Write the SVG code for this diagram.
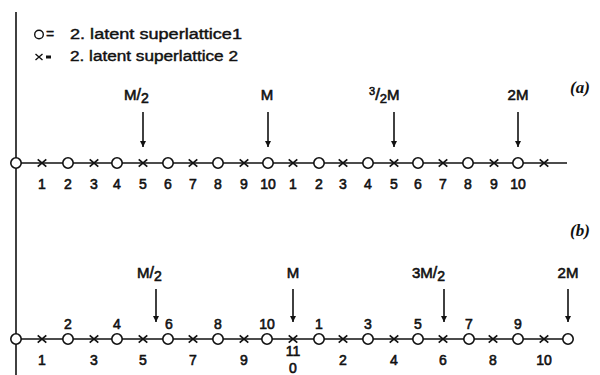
<svg xmlns="http://www.w3.org/2000/svg" width="600" height="375" viewBox="0 0 600 375">
<defs>
<style>
text{font-family:"Liberation Sans",Arial,sans-serif;font-size:14px;fill:#111;stroke:#111;stroke-width:0.6}
.n{text-anchor:middle}
.lg{font-size:14px;stroke-width:0.4}
.lb{font-size:15px}
.tag{font-family:"Liberation Serif","Times New Roman",serif;font-style:italic;font-weight:bold;font-size:17px;stroke:none}
.ln{stroke:#111;stroke-width:1.6;fill:none}
.ar{stroke:#111;stroke-width:1.6;fill:none}
</style>
<g id="o"><circle r="5.2" fill="#fff" stroke="#111" stroke-width="1.6"/></g>
<g id="x"><path d="M-4.3,-3.6 L4.3,3.6 M-4.3,3.6 L4.3,-3.6" stroke="#111" stroke-width="1.7" fill="none"/></g>
<marker id="ah" viewBox="0 0 10 10" refX="10" refY="5" markerWidth="9" markerHeight="6" orient="auto" markerUnits="userSpaceOnUse">
<path d="M0,0 L10,5 L0,10 Z" fill="#111"/>
</marker>
</defs>
<rect width="600" height="375" fill="#fff"/>

<g id="legend">
<circle cx="39" cy="34.5" r="4.3" fill="none" stroke="#111" stroke-width="1.4"/>
<text x="46" y="39" class="lg">=</text>
<text x="70" y="39" class="lg" textLength="172" lengthAdjust="spacingAndGlyphs">2. latent superlattice1</text>
<path d="M35.5,54 L42.5,60 M35.5,60 L42.5,54" stroke="#111" stroke-width="1.4"/>
<rect x="46" y="55.5" width="5" height="3" fill="#111"/>
<text x="70" y="61" class="lg" textLength="168" lengthAdjust="spacingAndGlyphs">2. latent superlattice 2</text>
</g>

<g id="connectors">
<line class="ln" x1="16" y1="12" x2="16" y2="375"/>
<line class="ln" x1="16" y1="163" x2="567" y2="163"/>
<line class="ln" x1="16" y1="339" x2="567" y2="339"/>
<line class="ar" x1="143" y1="112" x2="143" y2="147" marker-end="url(#ah)"/>
<line class="ar" x1="268" y1="112" x2="268" y2="147" marker-end="url(#ah)"/>
<line class="ar" x1="394" y1="112" x2="394" y2="147" marker-end="url(#ah)"/>
<line class="ar" x1="518" y1="112" x2="518" y2="147" marker-end="url(#ah)"/>
<line class="ar" x1="156" y1="289" x2="156" y2="322" marker-end="url(#ah)"/>
<line class="ar" x1="293" y1="289" x2="293" y2="322" marker-end="url(#ah)"/>
<line class="ar" x1="444" y1="289" x2="444" y2="322" marker-end="url(#ah)"/>
<line class="ar" x1="568" y1="289" x2="568" y2="322" marker-end="url(#ah)"/>
</g>

<g id="lattice-a">
<use href="#o" x="16" y="163"/>
<use href="#x" x="42" y="163"/>
<use href="#o" x="68" y="163"/>
<use href="#x" x="94" y="163"/>
<use href="#o" x="117" y="163"/>
<use href="#x" x="143" y="163"/>
<use href="#o" x="168" y="163"/>
<use href="#x" x="193" y="163"/>
<use href="#o" x="218" y="163"/>
<use href="#x" x="244" y="163"/>
<use href="#o" x="268" y="163"/>
<use href="#x" x="293" y="163"/>
<use href="#o" x="319" y="163"/>
<use href="#x" x="343" y="163"/>
<use href="#o" x="368" y="163"/>
<use href="#x" x="394" y="163"/>
<use href="#o" x="418" y="163"/>
<use href="#x" x="443" y="163"/>
<use href="#o" x="468" y="163"/>
<use href="#x" x="494" y="163"/>
<use href="#o" x="518" y="163"/>
<use href="#x" x="544" y="163"/>
<text class="n" x="42" y="189">1</text>
<text class="n" x="68" y="189">2</text>
<text class="n" x="94" y="189">3</text>
<text class="n" x="117" y="189">4</text>
<text class="n" x="143" y="189">5</text>
<text class="n" x="168" y="189">6</text>
<text class="n" x="193" y="189">7</text>
<text class="n" x="218" y="189">8</text>
<text class="n" x="244" y="189">9</text>
<text class="n" x="268" y="189">10</text>
<text class="n" x="293" y="189">1</text>
<text class="n" x="319" y="189">2</text>
<text class="n" x="343" y="189">3</text>
<text class="n" x="368" y="189">4</text>
<text class="n" x="394" y="189">5</text>
<text class="n" x="418" y="189">6</text>
<text class="n" x="443" y="189">7</text>
<text class="n" x="468" y="189">8</text>
<text class="n" x="494" y="189">9</text>
<text class="n" x="518" y="189">10</text>
<text class="lb" x="124" y="100">M<tspan font-size="16">/</tspan><tspan font-size="14" dy="3">2</tspan></text>
<text class="n lb" x="267" y="100">M</text>
<text class="lb" x="369" y="100"><tspan font-size="11" dy="-5">3</tspan><tspan font-size="17" dy="5">/</tspan><tspan font-size="13" dy="3">2</tspan><tspan dy="-3">M</tspan></text>
<text class="n lb" x="518" y="100">2M</text>
<text class="tag" x="570" y="93">(a)</text>
</g>

<g id="lattice-b">
<use href="#o" x="16" y="339"/>
<use href="#x" x="42" y="339"/>
<use href="#o" x="68" y="339"/>
<use href="#x" x="94" y="339"/>
<use href="#o" x="117" y="339"/>
<use href="#x" x="143" y="339"/>
<use href="#o" x="168" y="339"/>
<use href="#x" x="193" y="339"/>
<use href="#o" x="218" y="339"/>
<use href="#x" x="244" y="339"/>
<use href="#o" x="267" y="339"/>
<use href="#x" x="293" y="339"/>
<use href="#o" x="319" y="339"/>
<use href="#x" x="343" y="339"/>
<use href="#o" x="368" y="339"/>
<use href="#x" x="394" y="339"/>
<use href="#o" x="418" y="339"/>
<use href="#x" x="443" y="339"/>
<use href="#o" x="469" y="339"/>
<use href="#x" x="493" y="339"/>
<use href="#o" x="518" y="339"/>
<use href="#x" x="544" y="339"/>
<use href="#o" x="568" y="339"/>
<text class="n" x="68" y="329">2</text>
<text class="n" x="117" y="329">4</text>
<text class="n" x="169" y="329">6</text>
<text class="n" x="218" y="329">8</text>
<text class="n" x="267" y="329">10</text>
<text class="n" x="319" y="329">1</text>
<text class="n" x="368" y="329">3</text>
<text class="n" x="418" y="329">5</text>
<text class="n" x="469" y="329">7</text>
<text class="n" x="518" y="329">9</text>
<text class="n" x="42" y="365">1</text>
<text class="n" x="94" y="365">3</text>
<text class="n" x="143" y="365">5</text>
<text class="n" x="193" y="365">7</text>
<text class="n" x="244" y="365">9</text>
<text class="n" x="293" y="356" font-size="11">11</text>
<text class="n" x="293" y="372.5" font-size="11">0</text>
<text class="n" x="343" y="365">2</text>
<text class="n" x="394" y="365">4</text>
<text class="n" x="443" y="365">6</text>
<text class="n" x="493" y="365">8</text>
<text class="n" x="544" y="365">10</text>
<text class="lb" x="137" y="278">M<tspan font-size="16">/</tspan><tspan font-size="14" dy="3">2</tspan></text>
<text class="n lb" x="293" y="278">M</text>
<text class="lb" x="412" y="278">3M<tspan font-size="16">/</tspan><tspan font-size="14" dy="3">2</tspan></text>
<text class="n lb" x="568" y="278">2M</text>
<text class="tag" x="570" y="236">(b)</text>
</g>
</svg>
